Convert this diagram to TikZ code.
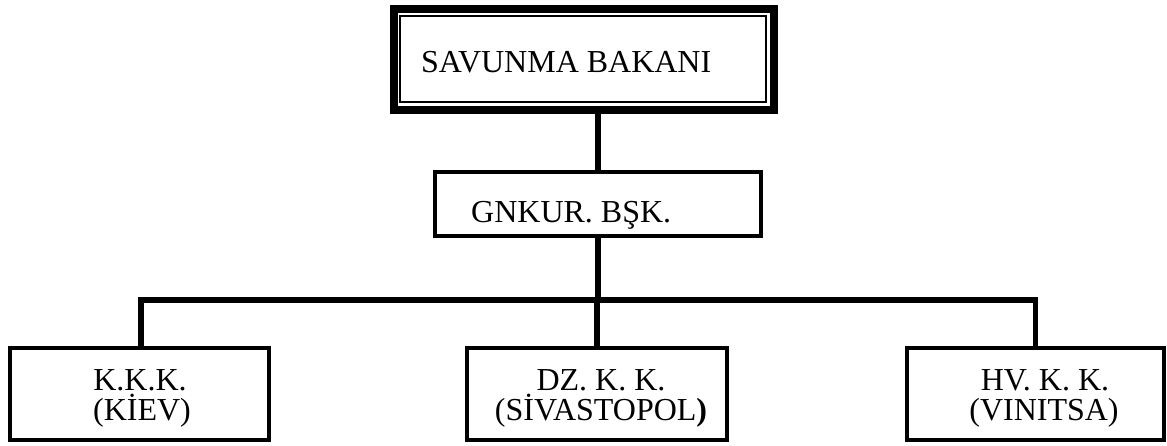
\documentclass[tikz,border=0pt]{standalone}
\usepackage{fontspec}
\setmainfont{Liberation Serif}
\usetikzlibrary{calc}
\begin{document}
\begin{tikzpicture}[x=1pt,y=-1pt,
  box/.style={draw, line width=4.5pt, outer sep=0pt, inner sep=0pt, rectangle},
  conn/.style={line width=5.5pt, line join=miter},
  txt/.style={inner sep=0pt, font=\fontsize{32}{30}\selectfont}]
\useasboundingbox (0,0) rectangle (1167,446);
% boxes
\node[box, line width=8pt, minimum width=380pt, minimum height=101pt] (top) at (584,59.5) {};
\draw[line width=1.6pt] ($(top.north west)+(6,7)$) rectangle ($(top.south east)+(-8,-8)$);
\node[box, minimum width=326pt, minimum height=64pt] (gn) at (598,204) {};
\node[box, minimum width=259pt, minimum height=92pt] (k1) at (139.5,394) {};
\node[box, minimum width=260pt, minimum height=92pt] (k2) at (597,394) {};
\node[box, minimum width=257pt, minimum height=92pt] (k3) at (1035.5,394) {};
% texts
\node[txt, anchor=base west] (ttop) at (421,73) {SAVUNMA BAKANI};
\node[txt, anchor=base west] (tgn) at (471,223) {GNKUR. BŞK.};
\node[txt, anchor=base] (t1a) at (140,390) {K.K.K.};
\node[txt, anchor=base] (t1b) at (142,420) {(KİEV)};
\node[txt, anchor=base] (t2a) at (601,390) {DZ. K. K.};
\node[txt, anchor=base] (t2b) at (601,420) {(SİVASTOPOL\textbf{)}};
\node[txt, anchor=base] (t3a) at (1045,390) {HV. K. K.};
\node[txt, anchor=base] (t3b) at (1044,420) {(VINITSA)};
% connectors
\coordinate (bus) at (598,300);
\draw[conn] (gn.north) -- (gn.north |- top.south);
\draw[conn] (gn.south) -- (bus);
\draw[conn] (bus) -- (bus -| k2.north) -- (k2.north);
\draw[conn] ($(k1.north)+(1.5,0)$) -- ($(k1.north |- bus)+(1.5,0)$) -- (k3.north |- bus) -- (k3.north);
\end{tikzpicture}
\end{document}
